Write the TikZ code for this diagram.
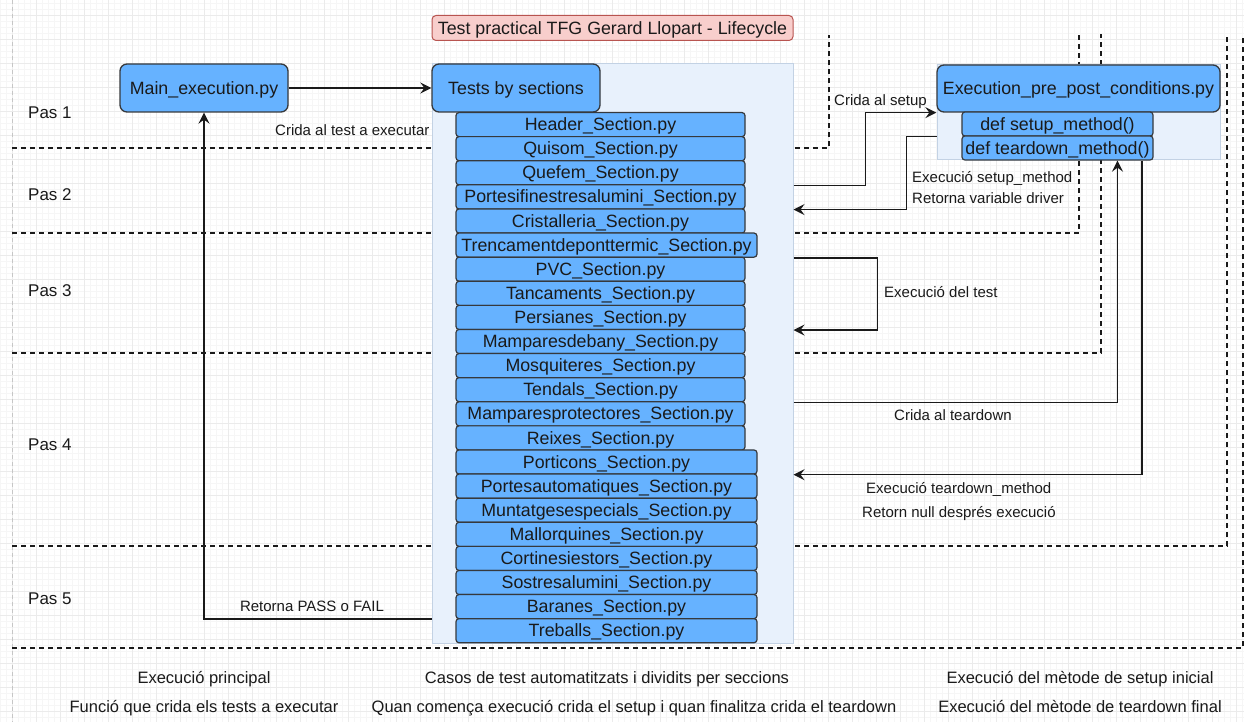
\documentclass[tikz,border=0pt]{standalone}
\usepackage{fontspec}
\setmainfont{Liberation Sans}
\usetikzlibrary{arrows.meta}

\definecolor{boxblue}{HTML}{66B2FF}
\definecolor{boxline}{HTML}{36393D}
\definecolor{areafill}{HTML}{E8F1FC}
\definecolor{arealine}{HTML}{C3D2E4}
\definecolor{titlefill}{HTML}{F8CECC}
\definecolor{titleline}{HTML}{B85450}
\definecolor{ink}{HTML}{1A1A1A}

\tikzset{
  >={Stealth[length=11pt,width=11pt,inset=4pt]},
  bigbox/.style={draw=boxline, fill=boxblue, text=ink, line width=1.3pt, rounded corners=7pt,
    minimum height=48pt, inner sep=0pt, text height=16pt, text depth=3.8pt, font=\fontsize{17.8}{20}\selectfont},
  secbox/.style={draw=boxline, fill=boxblue, text=ink, line width=1.2pt, rounded corners=3pt,
    minimum height=24.1pt, minimum width=289pt, inner sep=0pt, text height=16pt, text depth=3.8pt, font=\fontsize{17.8}{20}\selectfont},
  widebox/.style={secbox, minimum width=301pt},
  area/.style={draw=arealine, fill=areafill, line width=1pt, inner sep=0pt},
  lbl/.style={text=ink, inner sep=0pt, text height=13.6pt, text depth=3.2pt, font=\fontsize{15}{17}\selectfont},
  caption/.style={text=ink, inner sep=0pt, text height=15pt, text depth=3.5pt, font=\fontsize{16.5}{19}\selectfont},
  pas/.style={text=ink, inner sep=0pt, anchor=west, text height=15.4pt, text depth=3.6pt, font=\fontsize{17}{20}\selectfont},
  link/.style={->, line width=1.6pt, ink},
  stepline/.style={line width=1.6pt, ink, dash pattern=on 5pt off 4pt},
}

\begin{document}
\begin{tikzpicture}[x=1pt, y=-1pt]

		\useasboundingbox (0,0) rectangle (1244,722);
		\fill[white] (0,0) rectangle (1244,722);
		\foreach \x in {0,6,...,1242} \draw[gray!7, line width=0.6pt] (\x,0) -- (\x,722);
		\foreach \y in {3,9,...,721} \draw[gray!7, line width=0.6pt] (0,\y) -- (1244,\y);
		\foreach \x in {12,36,...,1242} \draw[gray!16, line width=0.8pt] (\x,0) -- (\x,722);
		\foreach \y in {15,39,...,721} \draw[gray!16, line width=0.8pt] (0,\y) -- (1244,\y);

		\draw[gray!45, line width=1pt, dash pattern=on 4pt off 3pt] (12,0) -- (12,722);
		\draw[stepline] (12,148) -| (829,35);
		\draw[stepline] (12,233) -| (1079,34);
		\draw[stepline] (12,353) -| (1101,34);
		\draw[stepline] (12,546) -| (1227,35);
		\draw[stepline] (12,648) -| (1243,38);

		\node [draw=titleline, fill=titlefill, text=ink, line width=1pt, rounded corners=4pt, minimum width=361pt, minimum height=25pt, inner sep=0pt, text height=16pt, text depth=3.8pt, font=\fontsize{17.8}{20}\selectfont] (29) at (612.5, 28) {Test practical TFG Gerard Llopart - Lifecycle};

		\node [area, minimum width=361pt, minimum height=579pt] (1) at (612.5, 353.5) {};
		\node [area, minimum width=283pt, minimum height=95pt] (2) at (1078.5, 112.5) {};

		\node [bigbox, minimum width=168pt] (0) at (204, 88) {Main\_execution.py};
		\node [bigbox, minimum width=168pt] (3) at (516, 88) {Tests by sections};
		\node [bigbox, minimum width=283pt, minimum height=47pt] (4) at (1078.5, 88.5) {Execution\_pre\_post\_conditions.py};
		\node [secbox, minimum width=191pt] (5) at (1057.5, 124) {def setup\_method()};
		\node [secbox, minimum width=191pt] (6) at (1057.5, 148) {def teardown\_method()};

		\node [secbox] (7) at (600.5, 124.6) {Header\_Section.py};
		\node [secbox] (8) at (600.5, 148.7) {Quisom\_Section.py};
		\node [secbox] (9) at (600.5, 172.8) {Quefem\_Section.py};
		\node [secbox] (10) at (600.5, 196.9) {Portesifinestresalumini\_Section.py};
		\node [secbox] (11) at (600.5, 221.0) {Cristalleria\_Section.py};
		\node [widebox] (12) at (606.5, 245.1) {Trencamentdeponttermic\_Section.py};
		\node [secbox] (13) at (600.5, 269.2) {PVC\_Section.py};
		\node [secbox] (14) at (600.5, 293.3) {Tancaments\_Section.py};
		\node [secbox] (15) at (600.5, 317.4) {Persianes\_Section.py};
		\node [secbox] (16) at (600.5, 341.5) {Mamparesdebany\_Section.py};
		\node [secbox] (17) at (600.5, 365.6) {Mosquiteres\_Section.py};
		\node [secbox] (18) at (600.5, 389.7) {Tendals\_Section.py};
		\node [secbox] (19) at (600.5, 413.8) {Mamparesprotectores\_Section.py};
		\node [secbox] (20) at (600.5, 437.9) {Reixes\_Section.py};
		\node [widebox] (21) at (606.5, 462.0) {Porticons\_Section.py};
		\node [widebox] (22) at (606.5, 486.1) {Portesautomatiques\_Section.py};
		\node [widebox] (23) at (606.5, 510.2) {Muntatgesespecials\_Section.py};
		\node [widebox] (24) at (606.5, 534.3) {Mallorquines\_Section.py};
		\node [widebox] (25) at (606.5, 558.4) {Cortinesiestors\_Section.py};
		\node [widebox] (26) at (606.5, 582.5) {Sostresalumini\_Section.py};
		\node [widebox] (27) at (606.5, 606.6) {Baranes\_Section.py};
		\node [widebox] (28) at (606.5, 630.7) {Treballs\_Section.py};

		\node [pas] (30) at (28, 113) {Pas 1};
		\node [pas] (31) at (28, 195) {Pas 2};
		\node [pas] (32) at (28, 291) {Pas 3};
		\node [pas] (33) at (28, 445) {Pas 4};
		\node [pas] (34) at (28, 599) {Pas 5};

		\node [lbl, anchor=west] (35) at (275, 130) {Crida al test a executar};
		\node [lbl, anchor=west] (36) at (834, 100) {Crida al setup};
		\node [lbl, anchor=west] (37) at (912, 177) {Execució setup\_method};
		\node [lbl, anchor=west] (38) at (912, 198) {Retorna variable driver};
		\node [lbl, anchor=west] (39) at (884, 292) {Execució del test};
		\node [lbl, anchor=west] (40) at (894, 415) {Crida al teardown};
		\node [lbl, anchor=west] (41) at (866, 488) {Execució teardown\_method};
		\node [lbl, anchor=west] (42) at (862, 512) {Retorn null després execució};
		\node [lbl] (43) at (312, 606) {Retorna PASS o FAIL};

		\node [caption] (44) at (204, 678) {Execució principal};
		\node [caption] (45) at (204, 707) {Funció que crida els tests a executar};
		\node [caption] (46) at (607, 678) {Casos de test automatitzats i dividits per seccions};
		\node [caption] (47) at (634, 707) {Quan comença execució crida el setup i quan finalitza crida el teardown};
		\node [caption] (48) at (1080, 678) {Execució del mètode de setup inicial};
		\node [caption] (49) at (1080, 707) {Execució del mètode de teardown final};

		\draw [link] (0.east) to (3.west);
		\draw [link] (1.east |- 9.south) -- ++(72,0) |- (4.south west);
		\draw [link] (2.west |- 5.south) -- ++(-30,0) |- (1.east |- 10.south);
		\draw [link] (1.east |- 12.south) -- ++(84,0) |- (1.east |- 15.south);
		\draw [link] (1.east |- 18.south) -| ([xshift=60pt]6.south);
		\draw [link] ([xshift=84.5pt]6.south) |- (1.east |- 21.south);
		\draw [link] (1.west |- 27.south) -| (0.south);
\end{tikzpicture}
\end{document}
